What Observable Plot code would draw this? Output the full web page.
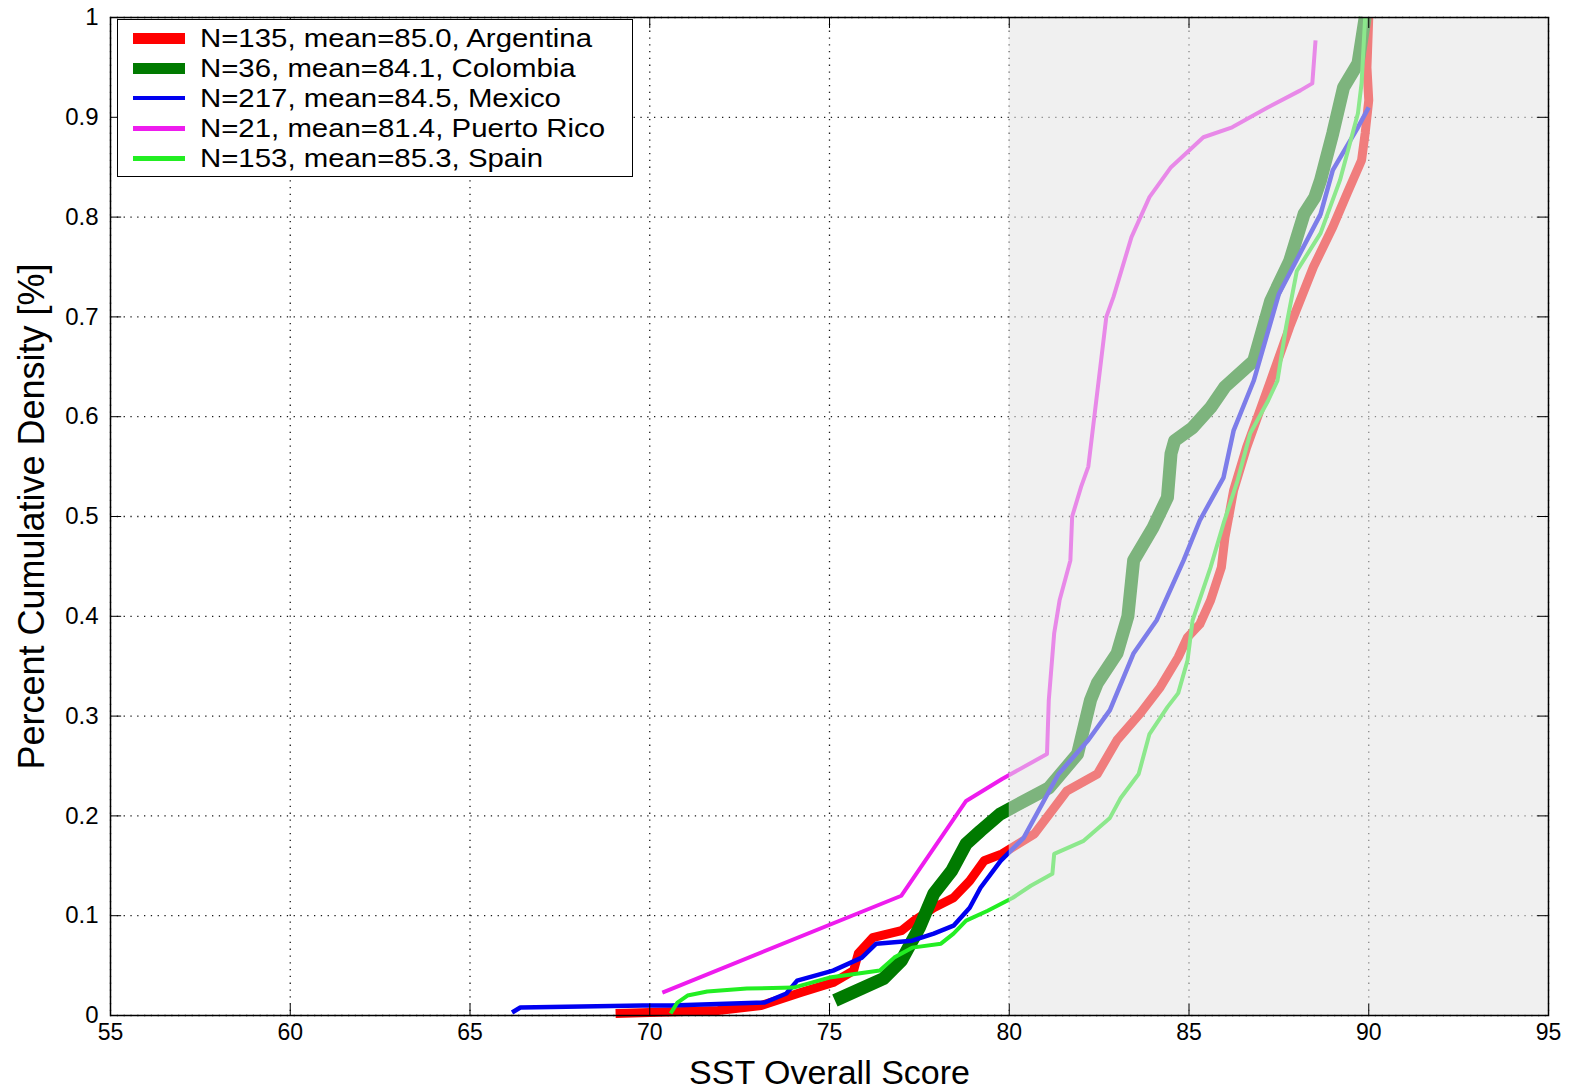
<!DOCTYPE html>
<html>
<head>
<meta charset="utf-8">
<script src="https://cdn.jsdelivr.net/npm/d3@7"></script>
<script src="https://cdn.jsdelivr.net/npm/@observablehq/plot@0.6"></script>
<style>
html, body { margin: 0; padding: 0; background: #fff; }
#wrap { position: relative; width: 1570px; height: 1091px; font-family: "Liberation Sans", Arial, Helvetica, sans-serif; }
#legend { position: absolute; left: 117px; top: 19px; width: 516px; height: 158px; border: 1.5px solid #000; background: #fff; box-sizing: border-box; }
.sw { position: absolute; left: 15px; width: 52px; }
.lab { position: absolute; left: 82px; font-size: 26px; line-height: 30px; height: 30px; white-space: nowrap; transform-origin: left center; transform: scaleX(1.13); color: #000; }
</style>
</head>
<body>
<div id="wrap"></div>
<script>
// ---- data ----
const xTicks = [55, 60, 65, 70, 75, 80, 85, 90, 95];
const yTicks = [0, 0.1, 0.2, 0.3, 0.4, 0.5, 0.6, 0.7, 0.8, 0.9, 1];
const shade = [{x1: 80, x2: 95, y1: 0, y2: 1}];

const seriesNames = ["Argentina", "Colombia", "Mexico", "Puerto Rico", "Spain"];
const seriesN = [135, 36, 217, 21, 153];
const seriesMean = [85.0, 84.1, 84.5, 81.4, 85.3];
const seriesColors = ["#ff0000", "#007a00", "#0000f0", "#ee1cee", "#22ee22"];
const seriesWidths = [9, 13, 4.5, 4, 4];
const legendWidths = [11, 11, 4, 5, 5];

const argentina = [
  [69.05, 0.002], [71.9, 0.005], [73.1, 0.01], [74.2, 0.023], [75.1, 0.033], [75.67, 0.045],
  [75.8, 0.062], [76.2, 0.078], [77.0, 0.085], [77.35, 0.095], [77.9, 0.108], [78.45, 0.118],
  [78.9, 0.135], [79.3, 0.155], [79.8, 0.162], [80.7, 0.182], [81.6, 0.225], [82.45, 0.242],
  [83.0, 0.276], [83.65, 0.303], [84.2, 0.329], [84.7, 0.359], [84.96, 0.379], [85.3, 0.392],
  [85.6, 0.416], [85.9, 0.449], [86.0, 0.479], [86.24, 0.526], [86.6, 0.569], [87.0, 0.609],
  [87.27, 0.636], [87.8, 0.69], [88.46, 0.75], [89.0, 0.79], [89.4, 0.824], [89.8, 0.857],
  [89.9, 0.884], [90.0, 0.917], [89.95, 0.95], [90.0, 1.0]
];
const colombia = [
  [75.15, 0.015], [76.5, 0.037], [77.0, 0.055], [77.5, 0.088], [77.9, 0.122], [78.4, 0.145],
  [78.8, 0.172], [79.2, 0.185], [79.75, 0.202], [81.1, 0.228], [81.9, 0.262], [82.26, 0.316],
  [82.45, 0.333], [83.0, 0.363], [83.3, 0.40], [83.46, 0.456], [84.0, 0.489], [84.4, 0.519],
  [84.5, 0.563], [84.6, 0.576], [85.1, 0.589], [85.6, 0.609], [86.0, 0.63], [86.8, 0.656],
  [87.27, 0.716], [87.8, 0.756], [88.2, 0.803], [88.5, 0.82], [88.66, 0.837], [89.0, 0.884],
  [89.3, 0.93], [89.7, 0.954], [89.9, 1.0]
];
const mexico = [
  [66.17, 0.003], [66.4, 0.008], [69.8, 0.01], [70.6, 0.01], [73.2, 0.013], [73.8, 0.022],
  [74.1, 0.035], [75.1, 0.045], [75.9, 0.058], [76.3, 0.072], [77.3, 0.075], [77.9, 0.082],
  [78.45, 0.09], [78.9, 0.108], [79.2, 0.128], [79.76, 0.155], [80.4, 0.178], [81.37, 0.242],
  [82.2, 0.276], [82.8, 0.306], [83.46, 0.363], [84.1, 0.396], [84.85, 0.456], [85.3, 0.496],
  [85.96, 0.539], [86.24, 0.586], [86.8, 0.636], [87.5, 0.723], [88.66, 0.803], [89.0, 0.847],
  [89.7, 0.89], [90.0, 0.91]
];
const puertoRico = [
  [70.35, 0.023], [77.0, 0.12], [78.8, 0.215], [79.8, 0.237], [81.05, 0.262], [81.1, 0.316],
  [81.25, 0.383], [81.4, 0.416], [81.7, 0.456], [81.75, 0.5], [82.0, 0.53], [82.2, 0.55],
  [82.7, 0.70], [82.9, 0.72], [83.4, 0.78], [83.9, 0.82], [84.5, 0.85], [85.4, 0.88],
  [86.2, 0.89], [87.2, 0.91], [88.1, 0.927], [88.43, 0.934], [88.52, 0.977]
];
const spain = [
  [70.58, 0.002], [70.77, 0.013], [71.05, 0.02], [71.6, 0.024], [72.7, 0.027], [74.0, 0.028],
  [75.0, 0.038], [76.4, 0.045], [76.8, 0.058], [77.3, 0.068], [78.1, 0.072], [78.45, 0.082],
  [78.8, 0.095], [79.4, 0.105], [80.1, 0.118], [80.6, 0.13], [81.2, 0.142], [81.25, 0.162],
  [82.07, 0.175], [82.8, 0.198], [83.1, 0.218], [83.6, 0.242], [83.9, 0.282], [84.4, 0.309],
  [84.7, 0.323], [84.96, 0.356], [85.1, 0.396], [85.6, 0.449], [85.96, 0.493], [86.35, 0.536],
  [86.7, 0.583], [87.2, 0.616], [87.46, 0.636], [87.7, 0.69], [88.0, 0.746], [88.66, 0.784],
  [89.2, 0.837], [89.7, 0.904], [89.8, 0.934], [89.9, 1.0]
];
const seriesData = [argentina, colombia, mexico, puertoRico, spain];

// ---- chart ----
const font = "'Liberation Sans', Arial, Helvetica, sans-serif";
const tickLenY = 0.011;  // inward tick length (style)
const tickLenX = 0.31;

const lineMarks = seriesData.map((data, i) =>
  Plot.line(data, {
    x: d => d[0], y: d => d[1],
    stroke: seriesColors[i], strokeWidth: seriesWidths[i],
    strokeLinejoin: "round", strokeLinecap: "butt"
  })
);

const chart = Plot.plot({
  width: 1570,
  height: 1091,
  marginLeft: 110,
  marginRight: 22,
  marginTop: 17,
  marginBottom: 76,
  style: {fontFamily: font, background: "white", color: "black"},
  x: {domain: [55, 95]},
  y: {domain: [0, 1]},
  marks: [
    Plot.gridX(xTicks, {stroke: "black", strokeOpacity: 0.9, strokeWidth: 1.3, strokeDasharray: "1.3,5.5"}),
    Plot.gridY(yTicks, {stroke: "black", strokeOpacity: 0.9, strokeWidth: 1.3, strokeDasharray: "1.3,5.5"}),
    ...lineMarks,
    Plot.rect(shade, {x1: "x1", x2: "x2", y1: "y1", y2: "y2", fill: "#e4e4e4", fillOpacity: 0.55}),
    Plot.ruleX(xTicks, {x: d => d, y1: 0, y2: tickLenY, stroke: "black"}),
    Plot.ruleX(xTicks, {x: d => d, y1: 1 - tickLenY, y2: 1, stroke: "black"}),
    Plot.ruleY(yTicks, {y: d => d, x1: 55, x2: 55 + tickLenX, stroke: "black"}),
    Plot.ruleY(yTicks, {y: d => d, x1: 95 - tickLenX, x2: 95, stroke: "black"}),
    Plot.frame({stroke: "black", strokeWidth: 1.5}),
    Plot.axisX({ticks: xTicks, tickSize: 0, tickPadding: 8, fontSize: 23, label: null, tickFormat: d => String(d)}),
    Plot.axisX({ticks: [], tickSize: 0, label: "SST Overall Score", labelAnchor: "center", labelArrow: "none", labelOffset: 68, fontSize: 34}),
    Plot.axisY({ticks: yTicks, tickSize: 0, tickPadding: 12, fontSize: 24, label: null, tickFormat: d => String(+d.toFixed(1))}),
    Plot.axisY({ticks: [], tickSize: 0, label: "Percent Cumulative Density [%]", labelAnchor: "center", labelArrow: "none", labelOffset: 92, fontSize: 36})
  ]
});

const wrap = document.getElementById("wrap");
wrap.appendChild(chart);

// ---- legend (inside the axes, top-left) ----
const legend = document.createElement("div");
legend.id = "legend";
seriesNames.forEach((name, i) => {
  const cy = 18 + i * 30;
  const sw = document.createElement("div");
  sw.className = "sw";
  sw.style.top = (cy - legendWidths[i] / 2) + "px";
  sw.style.height = legendWidths[i] + "px";
  sw.style.background = seriesColors[i];
  legend.appendChild(sw);
  const lab = document.createElement("div");
  lab.className = "lab";
  lab.style.top = (cy - 15) + "px";
  lab.textContent = `N=${seriesN[i]}, mean=${seriesMean[i].toFixed(1)}, ${name}`;
  legend.appendChild(lab);
});
wrap.appendChild(legend);
</script>
</body>
</html>
